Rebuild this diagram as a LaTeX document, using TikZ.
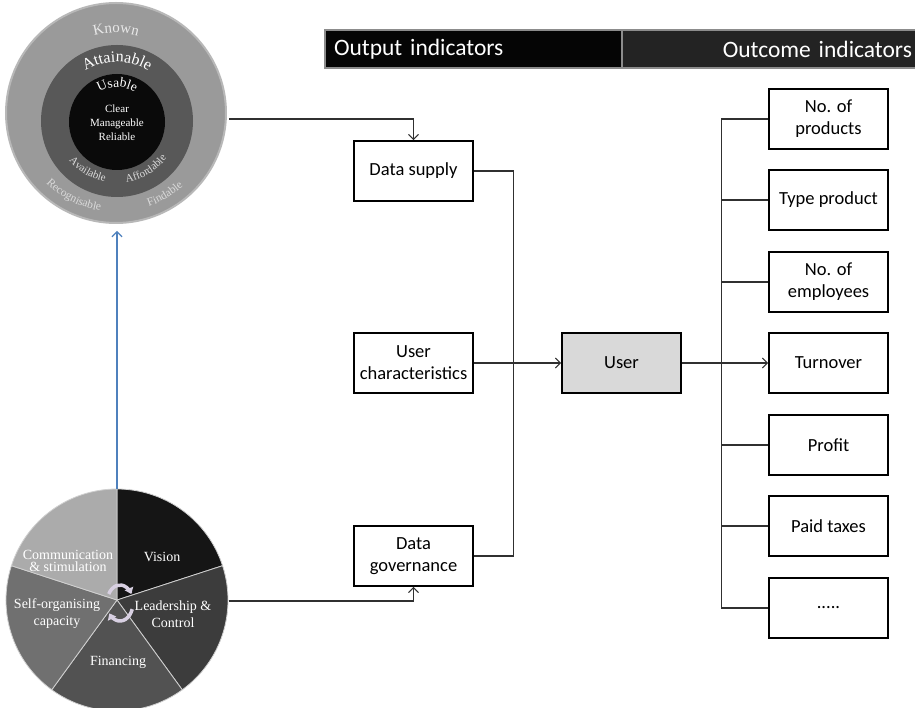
\documentclass[tikz,border=0pt]{standalone}
\usepackage{fontspec}
\setmainfont{Liberation Serif}
\newfontfamily\boxfont{Carlito}
\newfontfamily\ringfont{Liberation Serif}
\newfontfamily\ringspaced[LetterSpace=12]{Liberation Serif}
\newfontfamily\ringwide[LetterSpace=5]{Liberation Serif}
\usetikzlibrary{arrows.meta,decorations.text,calc}

\definecolor{ringouter}{HTML}{9A9A9A}
\definecolor{ringedge}{HTML}{B8B8B8}
\definecolor{ringmid}{HTML}{585858}
\definecolor{ringcore}{HTML}{0A0A0A}
\definecolor{knowntxt}{HTML}{E8E8E8}
\definecolor{softtxt}{HTML}{DADADA}
\definecolor{piea}{HTML}{151515}
\definecolor{pieb}{HTML}{3C3C3C}
\definecolor{piec}{HTML}{525252}
\definecolor{pied}{HTML}{707070}
\definecolor{piee}{HTML}{ABABAB}
\definecolor{piesep}{HTML}{D0D0D0}
\definecolor{linkgray}{HTML}{303030}
\definecolor{linkblue}{HTML}{4F81BD}
\definecolor{userfill}{HTML}{D9D9D9}
\definecolor{hdrleft}{HTML}{050505}
\definecolor{hdrright}{HTML}{232323}
\definecolor{hdrrule}{HTML}{8C8C8C}
\definecolor{cycfill}{HTML}{D8D0E2}
\definecolor{cycedge}{HTML}{8A8094}

\begin{document}
\begin{tikzpicture}[x=1pt,y=1pt,
  box/.style={draw=black, line width=1.6pt, fill=white, minimum width=119pt,
    minimum height=60pt, inner sep=0pt, align=center,
    font=\boxfont\fontsize{18.5}{22}\selectfont},
  userbox/.style={box, fill=userfill},
  link/.style={draw=linkgray, line width=1.1pt},
  tip/.style={-{Straight Barb[length=5pt,width=10pt]}},
  bluelink/.style={draw=linkblue, line width=1.2pt},
  hdr/.style={draw=hdrrule, line width=1.5pt, minimum height=38pt, inner ysep=0pt,
    text=white, font=\boxfont\fontsize{23.5}{26}\selectfont},
  pielbl/.style={text=white, align=center, inner sep=0pt,
    font=\ringfont\fontsize{14}{17}\selectfont},
  arctext/.style={decorate, decoration={text along path, text align=center,
    text color=#1}},
  cyc/.style={draw=cycfill, line width=3.5pt, -{Triangle[length=6pt,width=9pt]}}
]
\useasboundingbox (0,0) rectangle (915,707);
\clip (0,0) rectangle (915,707);

% ---------- nested rings: known / attainable / usable ----------
\coordinate (O1) at (116,594);
\coordinate (O2) at (117,586);
\node[circle, minimum size=220pt, inner sep=0pt, fill=ringouter, draw=ringedge, line width=2pt] (known) at (O1) {};
\node[circle, minimum size=152pt, inner sep=0pt, fill=ringmid] (attain) at (O2) {};
\node[circle, minimum size=96pt, inner sep=0pt, fill=ringcore] (usable) at (117,585) {};

\path[arctext=knowntxt, decoration={text={|\ringspaced\fontsize{15}{15}\selectfont|Known}}]
  ([shift={(130:80pt)}]O1) arc[start angle=130, end angle=50, radius=80pt];
\path[arctext=white, decoration={text={|\ringwide\fontsize{16}{16}\selectfont|Attainable}}]
  ([shift={(150:59pt)}]O2) arc[start angle=150, end angle=30, radius=59pt];
\path[arctext=white, decoration={text={|\ringfont\fontsize{13.5}{13.5}\selectfont|Usable}}]
  ([shift={(160:34pt)}]O2) arc[start angle=160, end angle=20, radius=34pt];
\node[text=white, align=center, inner sep=0pt, font=\ringfont\fontsize{11}{14}\selectfont]
  (qual) at (117,584) {Clear\\Manageable\\Reliable};

\path[arctext=softtxt, decoration={text={|\ringfont\fontsize{11}{11}\selectfont|Available}}]
  ([shift={(199:62pt)}]O2) arc[start angle=199, end angle=279, radius=62pt];
\path[arctext=softtxt, decoration={text={|\ringfont\fontsize{11}{11}\selectfont|Affordable}}]
  ([shift={(261:62pt)}]O2) arc[start angle=261, end angle=341, radius=62pt];
\path[arctext=softtxt, decoration={text={|\ringspaced\fontsize{11.5}{11.5}\selectfont|Recognisable}}]
  ([shift={(203:99pt)}]O1) arc[start angle=203, end angle=283, radius=99pt];
\path[arctext=softtxt, decoration={text={|\ringspaced\fontsize{11.5}{11.5}\selectfont|Findable}}]
  ([shift={(261:99pt)}]O1) arc[start angle=261, end angle=341, radius=99pt];

% ---------- governance pie ----------
\coordinate (P) at (117,107);
\foreach \a/\b/\c in {18/90/piea, -54/18/pieb, -126/-54/piec, 162/234/pied, 90/162/piee}
  \filldraw[fill=\c, draw=piesep, line width=0.8pt]
    (P) -- ([shift={(\a:111pt)}]P) arc[start angle=\a, end angle=\b, radius=111pt] -- cycle;

\node[pielbl] (vision) at (162,150) {Vision};
\node[pielbl, font=\ringfont\fontsize{14}{12.5}\selectfont] (comm) at (68,146) {Communication\\\& stimulation};
\node[pielbl] (selforg) at (57,93) {Self-organising\\capacity};
\node[pielbl] (lead) at (173,93) {Leadership \&\\Control};
\node[pielbl] (fin) at (118,45) {Financing};

\coordinate (C) at (120,104);
\draw[cyc] ([shift={(150:13pt and 18pt)}]C) arc[start angle=150, end angle=30, x radius=13pt, y radius=18pt];
\draw[cyc] ([shift={(-20:13pt and 18pt)}]C) arc[start angle=-20, end angle=-145, x radius=13pt, y radius=18pt];

% ---------- header ----------
\node[hdr, fill=hdrleft, text width=279pt, inner xsep=9pt, align=left] (outputhdr) at (473.5,658) {Output indicators};
\node[hdr, fill=hdrright, text width=285pt, inner xsep=5pt, align=right] (outcomehdr) at (769.5,658) {Outcome indicators};

% ---------- boxes ----------
\node[box] (supply) at (413.5,536) {Data supply};
\node[box] (userch) at (413.5,344) {User\\characteristics};
\node[box] (govern) at (413.5,151) {Data\\governance};
\node[userbox] (user) at (621.5,344) {User};

\node[box] (r1) at (828.5,588) {No. of\\products};
\node[box] (r2) at (828.5,507) {Type product};
\node[box] (r3) at (828.5,425) {No. of\\employees};
\node[box] (r4) at (828.5,344) {Turnover};
\node[box] (r5) at (828.5,262) {Profit};
\node[box] (r6) at (828.5,181) {Paid taxes};
\node[box] (r7) at (828.5,99) {.....};

% ---------- connectors ----------
\coordinate (ringsout) at (229,588);
\coordinate (pieout) at (229,106);
\coordinate (pietop) at (117,218);
\coordinate (ringsbottom) at (117,476);

\draw[link, tip] (ringsout) -| (supply.north);
\draw[link, tip] (pieout) -| (govern.south);
\draw[bluelink, tip] (pietop) -- (ringsbottom);

\draw[link] (supply.east) -- ++(40pt,0) |- (govern.east);
\draw[link, tip] (userch.east) -- (user.west);

\draw[link] (r1.west) -- ++(-47pt,0) |- (r7.west);
\foreach \r in {r2,r3,r5,r6}
  \draw[link] (\r.west) -- ++(-47pt,0);
\draw[link, tip] (user.east) -- (r4.west);
\end{tikzpicture}
\end{document}
